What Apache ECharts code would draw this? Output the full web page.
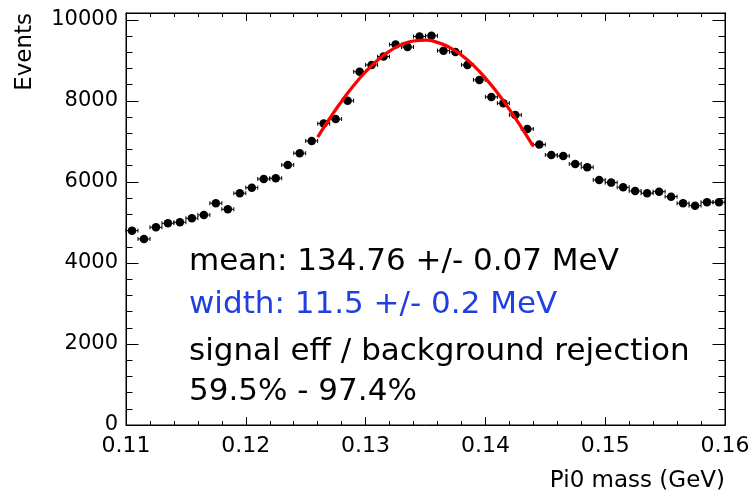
<!DOCTYPE html>
<html>
<head>
<meta charset="utf-8">
<script src="https://cdn.jsdelivr.net/npm/echarts@6/dist/echarts.min.js"></script>
<style>
  html, body { margin: 0; padding: 0; background: #fff; }
  #chart { width: 754px; height: 496px; }
</style>
</head>
<body>
<div id="chart"></div>
<script>
// Pi0 invariant-mass histogram (1 MeV bins) with Gaussian fit over the peak
const binCenters = [
  0.1105, 0.1115, 0.1125, 0.1135, 0.1145, 0.1155, 0.1165, 0.1175, 0.1185, 0.1195,
  0.1205, 0.1215, 0.1225, 0.1235, 0.1245, 0.1255, 0.1265, 0.1275, 0.1285, 0.1295,
  0.1305, 0.1315, 0.1325, 0.1335, 0.1345, 0.1355, 0.1365, 0.1375, 0.1385, 0.1395,
  0.1405, 0.1415, 0.1425, 0.1435, 0.1445, 0.1455, 0.1465, 0.1475, 0.1485, 0.1495,
  0.1505, 0.1515, 0.1525, 0.1535, 0.1545, 0.1555, 0.1565, 0.1575, 0.1585, 0.1595
];
const binEvents = [
  4798, 4593, 4881, 4980, 5005, 5104, 5185, 5474, 5326, 5721,
  5859, 6074, 6091, 6420, 6709, 7012, 7440, 7552, 8004, 8720,
  8889, 9094, 9390, 9330, 9590, 9608, 9240, 9210, 8889, 8519,
  8099, 7943, 7654, 7309, 6922, 6667, 6642, 6444, 6363, 6049,
  5983, 5869, 5778, 5721, 5760, 5637, 5474, 5415, 5499, 5499
];
const binHalfWidth = 0.0005;

// fitted curve, sampled every 1 MeV across the fit window
const fitMass = [
  0.126, 0.127, 0.128, 0.129, 0.130, 0.131, 0.132, 0.133, 0.134, 0.135,
  0.136, 0.137, 0.138, 0.139, 0.140, 0.141, 0.142, 0.143, 0.144
];
const fitEvents = [
  7108, 7566, 7992, 8380, 8720, 9005, 9230, 9389, 9479, 9498,
  9445, 9322, 9130, 8876, 8563, 8200, 7792, 7349, 6879
];

const xTickLabels = ['0.11', '0.12', '0.13', '0.14', '0.15', '0.16'];
const fitText = [
  'mean: 134.76 +/- 0.07 MeV',
  'width: 11.5 +/- 0.2 MeV',
  'signal eff / background rejection',
  '59.5% - 97.4%'
];

const chart = echarts.init(document.getElementById('chart'), null, { renderer: 'canvas' });

const tickFont = 'DejaVu Sans';
const yMax = 10170;

function yAxisDef(position, interval, tickLen, withLabels) {
  return {
    type: 'value',
    position: position,
    min: 0,
    max: yMax,
    interval: interval,
    splitLine: { show: false },
    axisLine: { show: true, onZero: false, lineStyle: { color: '#000', width: 1 } },
    axisTick: { show: true, inside: true, length: tickLen, lineStyle: { color: '#000', width: 1 } },
    axisLabel: withLabels ? {
      show: true,
      margin: 8,
      color: '#000',
      fontFamily: tickFont,
      fontSize: 21,
      formatter: function (v) { return (v % 2000 === 0) ? String(v) : ''; }
    } : { show: false }
  };
}

function xAxisDef(position, withLabels) {
  return {
    type: 'value',
    position: position,
    min: 0.11,
    max: 0.16,
    interval: 0.01,
    splitLine: { show: false },
    axisLine: { show: true, onZero: false, lineStyle: { color: '#000', width: 1 } },
    axisTick: { show: true, inside: true, length: 8, lineStyle: { color: '#000', width: 1 } },
    minorTick: { show: true, splitNumber: 5, length: 4, lineStyle: { color: '#000', width: 1 } },
    axisLabel: withLabels ? {
      show: true,
      margin: 10,
      color: '#000',
      fontFamily: tickFont,
      fontSize: 22,
      formatter: function (v) {
        const i = Math.round((v - 0.11) / 0.01);
        return xTickLabels[i] || '';
      }
    } : { show: false },
    name: withLabels ? 'Pi0 mass (GeV)' : '',
    nameLocation: 'end',
    nameGap: 0,
    nameTextStyle: {
      color: '#000',
      fontFamily: tickFont,
      fontSize: 23,
      align: 'right',
      verticalAlign: 'top',
      padding: [45, 0, 0, 0]
    }
  };
}

const noteFont = '31px "DejaVu Sans", sans-serif';
const noteTops = [246, 289, 336, 376];

chart.setOption({
  animation: false,
  backgroundColor: '#fff',
  grid: { left: 126, right: 29, top: 13, bottom: 71, show: true, borderColor: '#000', borderWidth: 1 },
  xAxis: [xAxisDef('bottom', true), xAxisDef('top', false)],
  yAxis: [
    yAxisDef('left', 2000, 12.5, true),
    yAxisDef('left', 400, 6.5, false),
    yAxisDef('right', 2000, 12.5, false),
    yAxisDef('right', 400, 6.5, false)
  ],
  series: [
    {
      // horizontal error bars (bin width) with end caps
      type: 'custom',
      xAxisIndex: 0,
      yAxisIndex: 0,
      silent: true,
      data: binCenters.map((x, i) => [x, binEvents[i]]),
      renderItem: function (params, api) {
        const x = api.value(0), y = api.value(1);
        const p0 = api.coord([x - binHalfWidth, y]);
        const p1 = api.coord([x + binHalfWidth, y]);
        const st = { stroke: '#000', lineWidth: 1 };
        return {
          type: 'group',
          children: [
            { type: 'line', shape: { x1: p0[0], y1: p0[1], x2: p1[0], y2: p1[1] }, style: st },
            { type: 'line', shape: { x1: p0[0], y1: p0[1] - 2, x2: p0[0], y2: p0[1] + 2 }, style: st },
            { type: 'line', shape: { x1: p1[0], y1: p1[1] - 2, x2: p1[0], y2: p1[1] + 2 }, style: st }
          ]
        };
      },
      z: 2
    },
    {
      type: 'scatter',
      xAxisIndex: 0,
      yAxisIndex: 0,
      symbol: 'circle',
      symbolSize: 8.5,
      itemStyle: { color: '#000', opacity: 1 },
      data: binCenters.map((x, i) => [x, binEvents[i]]),
      z: 3
    },
    {
      type: 'line',
      xAxisIndex: 0,
      yAxisIndex: 0,
      smooth: true,
      showSymbol: false,
      lineStyle: { color: '#ff0000', width: 3.2 },
      data: fitMass.map((x, i) => [x, fitEvents[i]]),
      z: 4
    }
  ],
  graphic: [
    {
      type: 'text',
      x: 37,
      y: 13,
      rotation: Math.PI / 2,
      style: { text: 'Events', fill: '#000', font: '23px "DejaVu Sans", sans-serif', align: 'right', verticalAlign: 'bottom' }
    },
    { type: 'text', left: 189, top: noteTops[0], style: { text: fitText[0], fill: '#000', font: noteFont } },
    { type: 'text', left: 189, top: noteTops[1], style: { text: fitText[1], fill: '#1f3fe0', font: noteFont } },
    { type: 'text', left: 189, top: noteTops[2], style: { text: fitText[2], fill: '#000', font: noteFont } },
    { type: 'text', left: 189, top: noteTops[3], style: { text: fitText[3], fill: '#000', font: noteFont } }
  ]
});
</script>
</body>
</html>
